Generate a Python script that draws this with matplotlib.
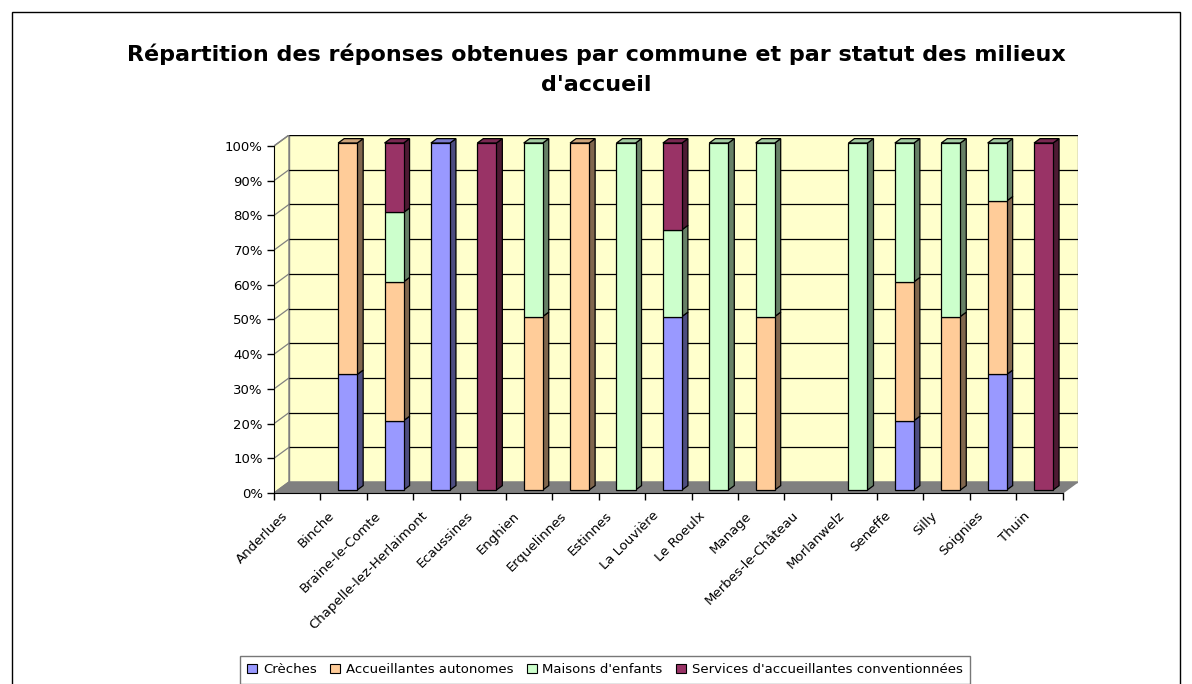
import numpy as np
import matplotlib.pyplot as plt
import matplotlib.transforms as mtransforms
from matplotlib.patches import Polygon, Rectangle, Patch

plt.rcParams['font.family'] = ['DejaVu Sans']

# Données (pourcentages par commune)
communes = ["Anderlues", "Binche", "Braine-le-Comte", "Chapelle-lez-Herlaimont",
            "Ecaussines", "Enghien", "Erquelinnes", "Estinnes", "La Louvière",
            "Le Roeulx", "Manage", "Merbes-le-Château", "Morlanwelz", "Seneffe",
            "Silly", "Soignies", "Thuin"]
series = ["Crèches", "Accueillantes autonomes", "Maisons d'enfants",
          "Services d'accueillantes conventionnées"]
creches = [0, 33.3, 20, 100, 0, 0, 0, 0, 50, 0, 0, 0, 0, 20, 0, 33.3, 0]
autonomes = [0, 66.7, 40, 0, 0, 50, 100, 0, 0, 0, 50, 0, 0, 40, 50, 50, 0]
maisons = [0, 0, 20, 0, 0, 50, 0, 100, 25, 100, 50, 0, 100, 40, 50, 16.7, 0]
services = [0, 0, 20, 0, 100, 0, 0, 0, 25, 0, 0, 0, 0, 0, 0, 0, 100]
colors = ["#9999FF", "#FFCC99", "#CCFFCC", "#993366"]
yticks = [0, 10, 20, 30, 40, 50, 60, 70, 80, 90, 100]

W, H = 1192, 684
fig = plt.figure(figsize=(W / 100, H / 100), dpi=100)

# profondeur de l'effet 3D (en unités de données)
DX, DY = 0.324, 3.17
f_front, f_depth = 0.27, 0.40
bw = 0.41
n = len(communes)

ax = fig.add_axes([274 / W, (H - 493) / H, (1077.7 - 274) / W, (493 - 135) / H])
ax.set_xlim(0, n + DX)
ax.set_ylim(0, 100 + DY)
ax.patch.set_visible(False)

wall = "#FFFFCC"
# paroi gauche, paroi du fond, sol
ax.add_patch(Polygon([(0, 0), (DX, DY), (DX, 100 + DY), (0, 100)], closed=True,
                     fc=wall, ec="#808080", lw=1, zorder=1))
ax.add_patch(Rectangle((DX, DY), n, 100, fc=wall, ec="#808080", lw=1, zorder=1))
ax.add_patch(Polygon([(0, 0), (n, 0), (n + DX, DY), (DX, DY)], closed=True,
                     fc="#808080", ec="#808080", lw=1, zorder=1))
for t in yticks[1:]:
    ax.plot([DX, n + DX], [t + DY, t + DY], color="black", lw=0.9, zorder=2)
    ax.plot([0, DX], [t, t + DY], color="#808080", lw=0.9, zorder=2)

# barres empilées en pseudo-3D
data = np.array([creches, autonomes, maisons, services])
for i in range(n):
    x0 = i + (1 - bw) / 2 + f_front * DX
    y0 = f_front * DY
    ddx, ddy = f_depth * DX, f_depth * DY
    bottom = 0
    top_idx = max([k for k in range(4) if data[k, i] > 0], default=None)
    for k in range(4):
        h = data[k, i]
        if h <= 0:
            continue
        c = np.array(plt.matplotlib.colors.to_rgb(colors[k]))
        yb = y0 + bottom
        ax.add_patch(Polygon([(x0 + bw, yb), (x0 + bw + ddx, yb + ddy),
                              (x0 + bw + ddx, yb + h + ddy), (x0 + bw, yb + h)],
                             closed=True, fc=c * 0.5, ec="black", lw=0.9, zorder=3))
        if k == top_idx:
            ax.add_patch(Polygon([(x0, yb + h), (x0 + ddx, yb + h + ddy),
                                  (x0 + bw + ddx, yb + h + ddy), (x0 + bw, yb + h)],
                                 closed=True, fc=c * 0.8, ec="black", lw=0.9, zorder=3))
        ax.add_patch(Rectangle((x0, yb), bw, h, fc=c, ec="black", lw=0.9, zorder=4))
        bottom += h

for s in ["top", "right"]:
    ax.spines[s].set_visible(False)
ax.spines["left"].set_bounds(0, 100)
ax.spines["bottom"].set_bounds(0, n)
ax.spines["left"].set_zorder(5)
ax.spines["bottom"].set_zorder(5)

ax.set_yticks(yticks)
ax.set_yticklabels([f"{t}%" for t in yticks], fontsize=9.5)
ax.set_xticks(np.arange(n + 1))
ax.set_xticklabels([])
ax.set_xticks(np.arange(n) + 0.5, minor=True)
ax.set_xticklabels(communes, minor=True, rotation=45, ha="right", va="top",
                   rotation_mode="anchor", fontsize=9.5)
ax.tick_params(axis="x", which="minor", length=0, pad=8)
ax.tick_params(axis="both", which="major", length=5, width=1, direction="out")
ax.tick_params(axis="y", pad=3)
shift = mtransforms.ScaledTranslation(-16 / 100, -5 / 100, fig.dpi_scale_trans)
for lab in ax.get_xticklabels(minor=True):
    lab.set_transform(lab.get_transform() + shift)

fig.text(0.5, 1 - 69 / H, "Répartition des réponses obtenues par commune et par statut des milieux\nd'accueil",
         ha="center", va="center", fontsize=16, fontweight="bold", linespacing=1.65)

handles = [Patch(fc=c, ec="black", lw=0.8) for c in colors]
fig.legend(handles, series, loc="upper center", bbox_to_anchor=(605 / W, 1 - 656 / H),
           ncol=4, fontsize=9.5, frameon=True, fancybox=False, edgecolor="#555555",
           handlelength=0.75, handleheight=0.75, handletextpad=0.45, columnspacing=1.0,
           borderpad=0.55, borderaxespad=0)

fig.patches.append(Rectangle((12 / W, -0.1), (1180 - 12) / W, 1.1 - 12 / H,
                             transform=fig.transFigure, fill=False, ec="black", lw=1))

fig.savefig("out.png", dpi=100)
